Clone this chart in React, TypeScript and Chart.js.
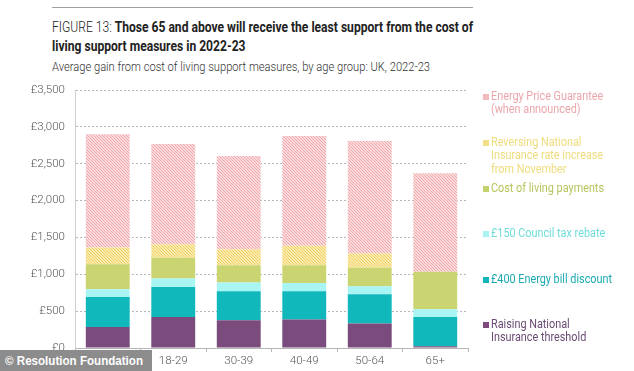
import React, { useEffect, useRef } from "react";
import { Chart, registerables } from "chart.js";
Chart.register(...registerables);

const categories = ["Under 18", "18-29", "30-39", "40-49", "50-64", "65+"];
const niThreshold = [285, 421, 376, 386, 331, 23];
const energyBillDiscount = [408, 408, 394, 384, 399, 398];
const councilTaxRebate = [105, 114, 118, 113, 108, 105];
const costOfLivingPayments = [339, 280, 236, 241, 249, 507];
const reversingNI = [227, 186, 217, 262, 196, 0];
const energyPriceGuarantee = [1535, 1359, 1264, 1490, 1525, 1337];
const yTickValues = [0, 500, 1000, 1500, 2000, 2500, 3000, 3500];

const legendItems = [
  { lines: ["Energy Price Guarantee", "(when announced)"], color: "#eba6ab", box: "#f3b9bb", y: 90 },
  { lines: ["Reversing National", "Insurance rate increase", "from November"], color: "#eedc7c", box: "#f3df88", y: 136 },
  { lines: ["Cost of living payments"], color: "#b7c45c", box: "#c6d36c", y: 181.5 },
  { lines: ["£150 Council tax rebate"], color: "#6fdcd8", box: "#a6f3f1", y: 226.5 },
  { lines: ["£400 Energy bill discount"], color: "#1aa9b0", box: "#10b5ba", y: 272.5 },
  { lines: ["Raising National", "Insurance threshold"], color: "#6a4b72", box: "#7a4b7c", y: 318 },
];

const FONT = "Roboto, sans-serif";

function textWidth(text: string, font: string) {
  const c = document.createElement("canvas").getContext("2d")!;
  c.font = font;
  return c.measureText(text).width;
}

const TITLE_SIZE = 14.5;
const titleA = "FIGURE 13: ";
const titleB1 = "Those 65 and above will receive the least support from the cost of";
const titleB2 = "living support measures in 2022-23";
const subtitle = "Average gain from cost of living support measures, by age group: UK, 2022-23";
const LEG_SIZE = 12;

function hatch(bg: string, fg: string) {
  const n = 3;
  const c = document.createElement("canvas");
  c.width = n;
  c.height = n;
  const x = c.getContext("2d")!;
  x.fillStyle = bg;
  x.fillRect(0, 0, n, n);
  x.strokeStyle = fg;
  x.lineWidth = 1;
  x.beginPath();
  x.moveTo(-1, -1);
  x.lineTo(n + 1, n + 1);
  x.moveTo(-1, n - 1);
  x.lineTo(1, n + 1);
  x.moveTo(n - 1, -1);
  x.lineTo(n + 1, 1);
  x.stroke();
  return x.createPattern(c, "repeat")!;
}

export default function App() {
  const ref = useRef<HTMLCanvasElement>(null);

  const t1w =
    textWidth(titleA, `300 ${TITLE_SIZE}px Roboto`) + textWidth(titleB1, `700 ${TITLE_SIZE}px Roboto`);
  const titleScale = 421 / t1w;
  const subScale = 378 / textWidth(subtitle, `300 12.5px Roboto`);
  const legScale = 113 / textWidth("Cost of living payments", `400 ${LEG_SIZE}px Roboto`);
  const badgeScale = 138 / textWidth("© Resolution Foundation", `700 13px Arial`);

  useEffect(() => {
    if (!ref.current) return;
    const chart = new Chart(ref.current, {
      type: "bar",
      data: {
        labels: categories,
        datasets: [
          { label: "Raising National Insurance threshold", data: niThreshold, backgroundColor: "#7a4b7c" },
          { label: "£400 Energy bill discount", data: energyBillDiscount, backgroundColor: "#10b8bc" },
          { label: "£150 Council tax rebate", data: councilTaxRebate, backgroundColor: "#a8f5f3" },
          { label: "Cost of living payments", data: costOfLivingPayments, backgroundColor: "#cad571" },
          { label: "Reversing National Insurance rate increase from November", data: reversingNI, backgroundColor: hatch("#fbeab0", "#f0d263") },
          { label: "Energy Price Guarantee (when announced)", data: energyPriceGuarantee, backgroundColor: hatch("#fadadc", "#efa9ad") },
        ],
      },
      options: {
        responsive: false,
        animation: false,
        layout: { padding: { left: 0, right: 166, top: 90, bottom: 0 } },
        plugins: { legend: { display: false }, tooltip: { enabled: false } },
        datasets: { bar: { categoryPercentage: 1, barPercentage: 0.67 } },
        scales: {
          x: {
            stacked: true,
            grid: { display: true, drawOnChartArea: false, drawTicks: true, tickLength: 4, color: "#b5b5b5", offset: true },
            border: { display: true, color: "#b5b5b5" },
            ticks: { color: "#555", font: { family: FONT, size: 11.5, weight: "300" }, padding: 2 },
            afterFit: (s: any) => { s.height = 23; },
          },
          y: {
            stacked: true,
            min: 0,
            max: 3500,
            afterBuildTicks: (s: any) => { s.ticks = yTickValues.map((v) => ({ value: v })); },
            ticks: {
              color: "#555",
              font: { family: FONT, size: 11.5, weight: "300" },
              padding: 10,
              callback: (v: any) => "£" + Number(v).toLocaleString("en-GB"),
            },
            grid: { color: "#b8b8b8", drawTicks: false },
            border: { display: true, color: "#d0d0d0", dash: [2, 2] },
            afterFit: (s: any) => { s.width = 75; },
          },
        },
      },
      plugins: [
        {
          id: "leftAxis",
          afterDatasetsDraw(c: any) {
            const { ctx, chartArea } = c;
            ctx.save();
            ctx.setLineDash([]);
            ctx.strokeStyle = "#d0d0d0";
            ctx.lineWidth = 1;
            ctx.beginPath();
            ctx.moveTo(chartArea.left + 0.5, chartArea.top);
            ctx.lineTo(chartArea.left + 0.5, chartArea.bottom);
            ctx.stroke();
            ctx.restore();
          },
        },
      ],
    });
    return () => chart.destroy();
  }, []);

  const lineStyle = (scale: number): React.CSSProperties => ({
    display: "inline-block",
    whiteSpace: "nowrap",
    transform: `scaleX(${scale})`,
    transformOrigin: "left top",
  });

  return (
    <div style={{ position: "absolute", left: 0, top: 0, width: 634, height: 371, background: "#fff", overflow: "hidden", fontFamily: FONT }}>
      <div style={{ position: "absolute", left: 52, top: 7, width: 421, height: 1, background: "#a0a0a0" }} />
      <div style={{ position: "absolute", left: 52, top: 18.5, fontSize: TITLE_SIZE, color: "#222", width: 600 }}>
        <div style={{ ...lineStyle(titleScale), lineHeight: 1 }}>
          <span style={{ fontWeight: 300 }}>{titleA}</span>
          <span style={{ fontWeight: 700 }}>{titleB1}</span>
        </div>
      </div>
      <div style={{ position: "absolute", left: 52, top: 39.5, fontSize: TITLE_SIZE, lineHeight: 1, color: "#222", fontWeight: 700, width: 600 }}>
        <div style={lineStyle(titleScale)}>{titleB2}</div>
      </div>
      <div style={{ position: "absolute", left: 52, top: 61.2, fontSize: 12.5, lineHeight: 1, color: "#333", fontWeight: 300, width: 600 }}>
        <div style={lineStyle(subScale)}>{subtitle}</div>
      </div>
      <canvas ref={ref} width={634} height={371} style={{ position: "absolute", left: 0, top: 0 }} />
      {legendItems.map((it, i) => (
        <div key={i} style={{ position: "absolute", left: 482.5, top: it.y, width: 150, fontSize: LEG_SIZE, lineHeight: "13.3px", color: it.color }}>
          <div style={{ position: "absolute", left: 0, top: 4, width: 6, height: 6, background: it.box }} />
          <div style={{ marginLeft: 8.5 }}>
            {it.lines.map((l, j) => (
              <div key={j} style={{ height: 13.3 }}>
                <span style={lineStyle(legScale)}>{l}</span>
              </div>
            ))}
          </div>
        </div>
      ))}
      <div style={{ position: "absolute", left: 0, top: 350, width: 152, height: 21, background: "#8c8c8c", color: "#fff", fontFamily: "Arial, 'Liberation Sans', sans-serif", fontWeight: 700, fontSize: 13, lineHeight: "21px", paddingLeft: 5, boxSizing: "border-box" }}>
        <span style={lineStyle(badgeScale)}>© Resolution Foundation</span>
      </div>
    </div>
  );
}
